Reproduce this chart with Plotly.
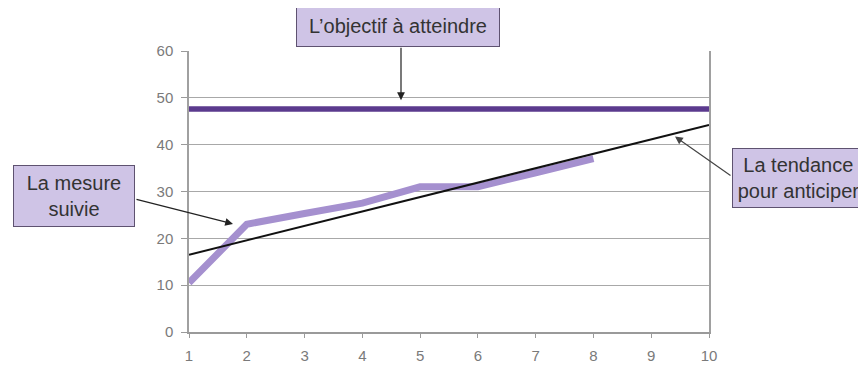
import plotly.graph_objects as go

# Data
x_values = [1, 2, 3, 4, 5, 6, 7, 8]
mesure = [10.5, 23, 25.3, 27.5, 31, 31, 34, 37]
trend_x = [1, 10]
trend_y = [16.5, 44.2]
objectif_x = [1, 10]
objectif_y = [47.6, 47.6]
x_ticks = [1, 2, 3, 4, 5, 6, 7, 8, 9, 10]
y_ticks = [0, 10, 20, 30, 40, 50, 60]

W, H = 866, 368
OFF = 8  # page body margin
# target plot area in window pixels
X0, X1, Y0, Y1 = 189, 709, 51, 337
L, T = X0 - OFF, Y0 - OFF
R, B = W - (X1 - OFF), H - (Y1 - OFF) - 6
PW, PH = X1 - X0, Y1 - Y0

def px(x):
    return (x - X0) / PW

def py(y):
    return (Y1 - y) / PH

fig = go.Figure()
fig.add_trace(go.Scatter(x=objectif_x, y=objectif_y, mode="lines",
                         line=dict(color="#5b3a8e", width=5.5), showlegend=False))
fig.add_trace(go.Scatter(x=x_values, y=mesure, mode="lines",
                         line=dict(color="#a590cf", width=7), showlegend=False))
fig.add_trace(go.Scatter(x=trend_x, y=trend_y, mode="lines",
                         line=dict(color="#111111", width=2), showlegend=False))

box_font = dict(family="Liberation Sans, Arial, sans-serif", size=20, color="#333333")
box_bg = "#cfc4e6"
box_border = "#5e5270"

annotations = [
    # arrows
    dict(xref="paper", yref="paper", x=px(401), y=py(101), ax=0, ay=-54,
         showarrow=True, arrowhead=2, arrowsize=1.3, arrowwidth=1.2, arrowcolor="#222222", text=""),
    dict(xref="paper", yref="paper", x=px(233), y=py(227), ax=-98, ay=-25,
         showarrow=True, arrowhead=2, arrowsize=1.3, arrowwidth=1.2, arrowcolor="#222222", text=""),
    dict(xref="paper", yref="paper", x=px(675), y=py(138), ax=57, ay=40,
         showarrow=True, arrowhead=2, arrowsize=1.3, arrowwidth=1.2, arrowcolor="#444444", text=""),
    # boxes
    dict(xref="paper", yref="paper", x=px(398), y=py(26), xanchor="center", yanchor="middle",
         text="L’objectif à atteindre", showarrow=False, font=box_font,
         bgcolor=box_bg, bordercolor=box_border, borderwidth=1, borderpad=0,
         width=202, height=40, align="center"),
    dict(xref="paper", yref="paper", x=px(74), y=py(199), xanchor="center", yanchor="middle",
         text="La mesure<br>suivie", showarrow=False, font=box_font,
         bgcolor=box_bg, bordercolor=box_border, borderwidth=1, borderpad=0,
         width=120, height=60, align="center"),
    dict(xref="paper", yref="paper", x=px(798), y=py(180), xanchor="center", yanchor="middle",
         text="La tendance<br>pour anticiper", showarrow=False, font=box_font,
         bgcolor=box_bg, bordercolor=box_border, borderwidth=1, borderpad=0,
         width=131, height=58, align="center"),
]

tick_font = dict(family="Liberation Sans, Arial, sans-serif", size=15, color="#7a7a7a")

fig.update_layout(
    width=W, height=H,
    margin=dict(l=L, r=R, t=T, b=B),
    paper_bgcolor="white", plot_bgcolor="white",
    annotations=annotations,
    xaxis=dict(range=[1, 10], tickvals=x_ticks, ticktext=[str(v) for v in x_ticks],
               showgrid=False, zeroline=False, showline=True, linecolor="#9a9a9a", linewidth=1.5,
               ticks="outside", ticklen=4, tickcolor="#9a9a9a", tickfont=tick_font,
               ticklabelstandoff=5),
    yaxis=dict(range=[0, 60], tickvals=y_ticks, showgrid=True, gridcolor="#a8a8a8", gridwidth=1.3,
               zeroline=False, showline=True, mirror=True, linecolor="#a0a0a0", linewidth=1.5,
               ticks="outside", ticklen=6, tickcolor="#9a9a9a", tickfont=tick_font,
               ticklabelstandoff=5),
)

fig.write_html("out.html")
